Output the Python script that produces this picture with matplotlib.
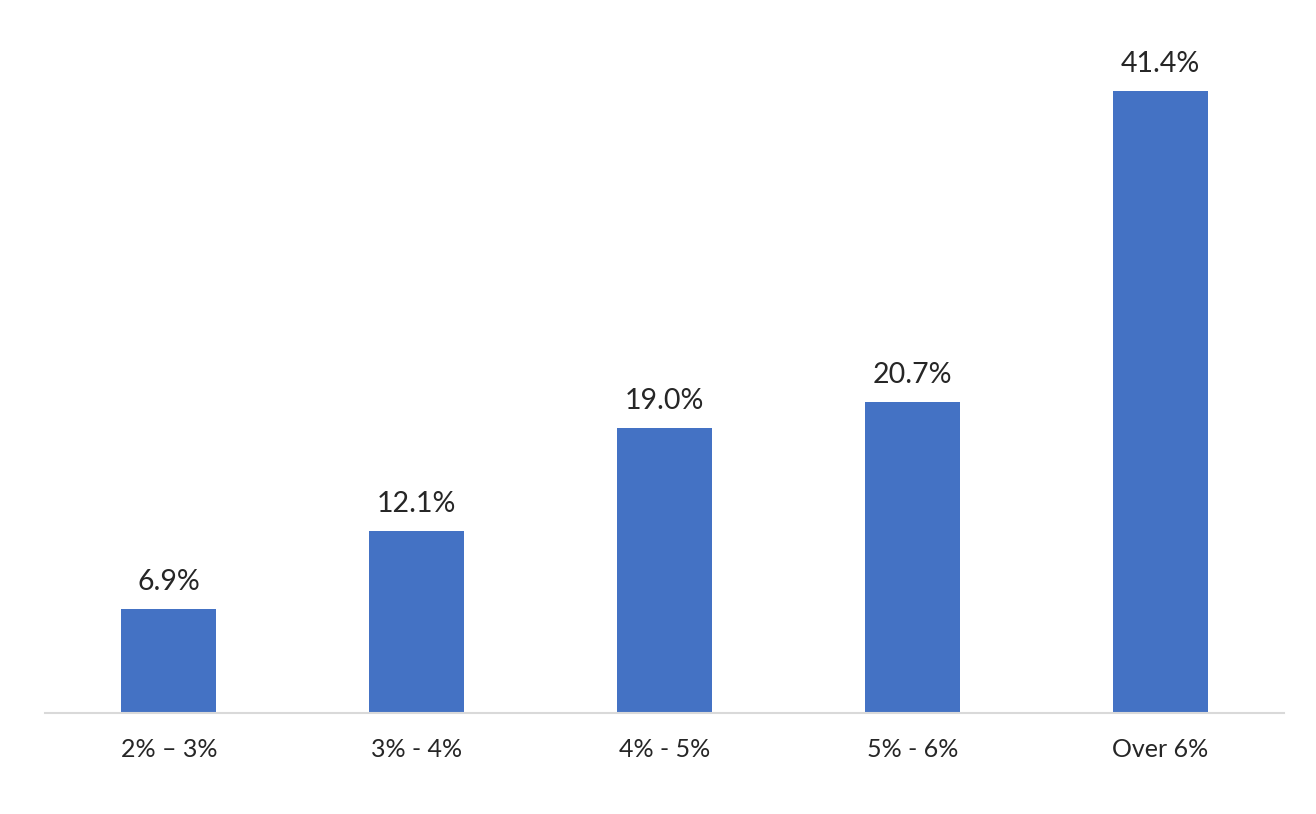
import matplotlib
matplotlib.use("Agg")
import matplotlib.pyplot as plt

categories = ["2% \u2013 3%", "3% - 4%", "4% - 5%", "5% - 6%", "Over 6%"]
shares = [6.9, 12.1, 19.0, 20.7, 41.4]

plt.rcParams['font.family'] = ['Lato', 'DejaVu Sans']

fig = plt.figure(figsize=(13.16, 8.14), dpi=100)
# axes in pixel terms: left 45, right 1284, bottom 713, top 30
W, H = 1316, 814
ax = fig.add_axes([45 / W, (H - 713) / H, (1284 - 45) / W, (713 - 30) / H])

x = range(len(categories))
bars = ax.bar(x, shares, width=0.383, color="#4472C4")

ax.set_xlim(-0.5, len(categories) - 0.5)
ax.set_ylim(0, (713 - 30) / 15.02)

for b, v in zip(bars, shares):
    ax.annotate(f"{v:.1f}%", (b.get_x() + b.get_width() / 2, v),
                xytext=(0, 10), textcoords="offset points",
                ha="center", va="bottom", fontsize=20.5, color="#262626")

ax.set_xticks(list(x))
ax.set_xticklabels(categories, fontsize=18, color="#262626")
ax.tick_params(axis="x", length=0, pad=18)
ax.set_yticks([])

for s in ["top", "right", "left"]:
    ax.spines[s].set_visible(False)
ax.spines["bottom"].set_color("#d9d9d9")
ax.spines["bottom"].set_linewidth(1.5)

fig.savefig("out.png", dpi=100)
